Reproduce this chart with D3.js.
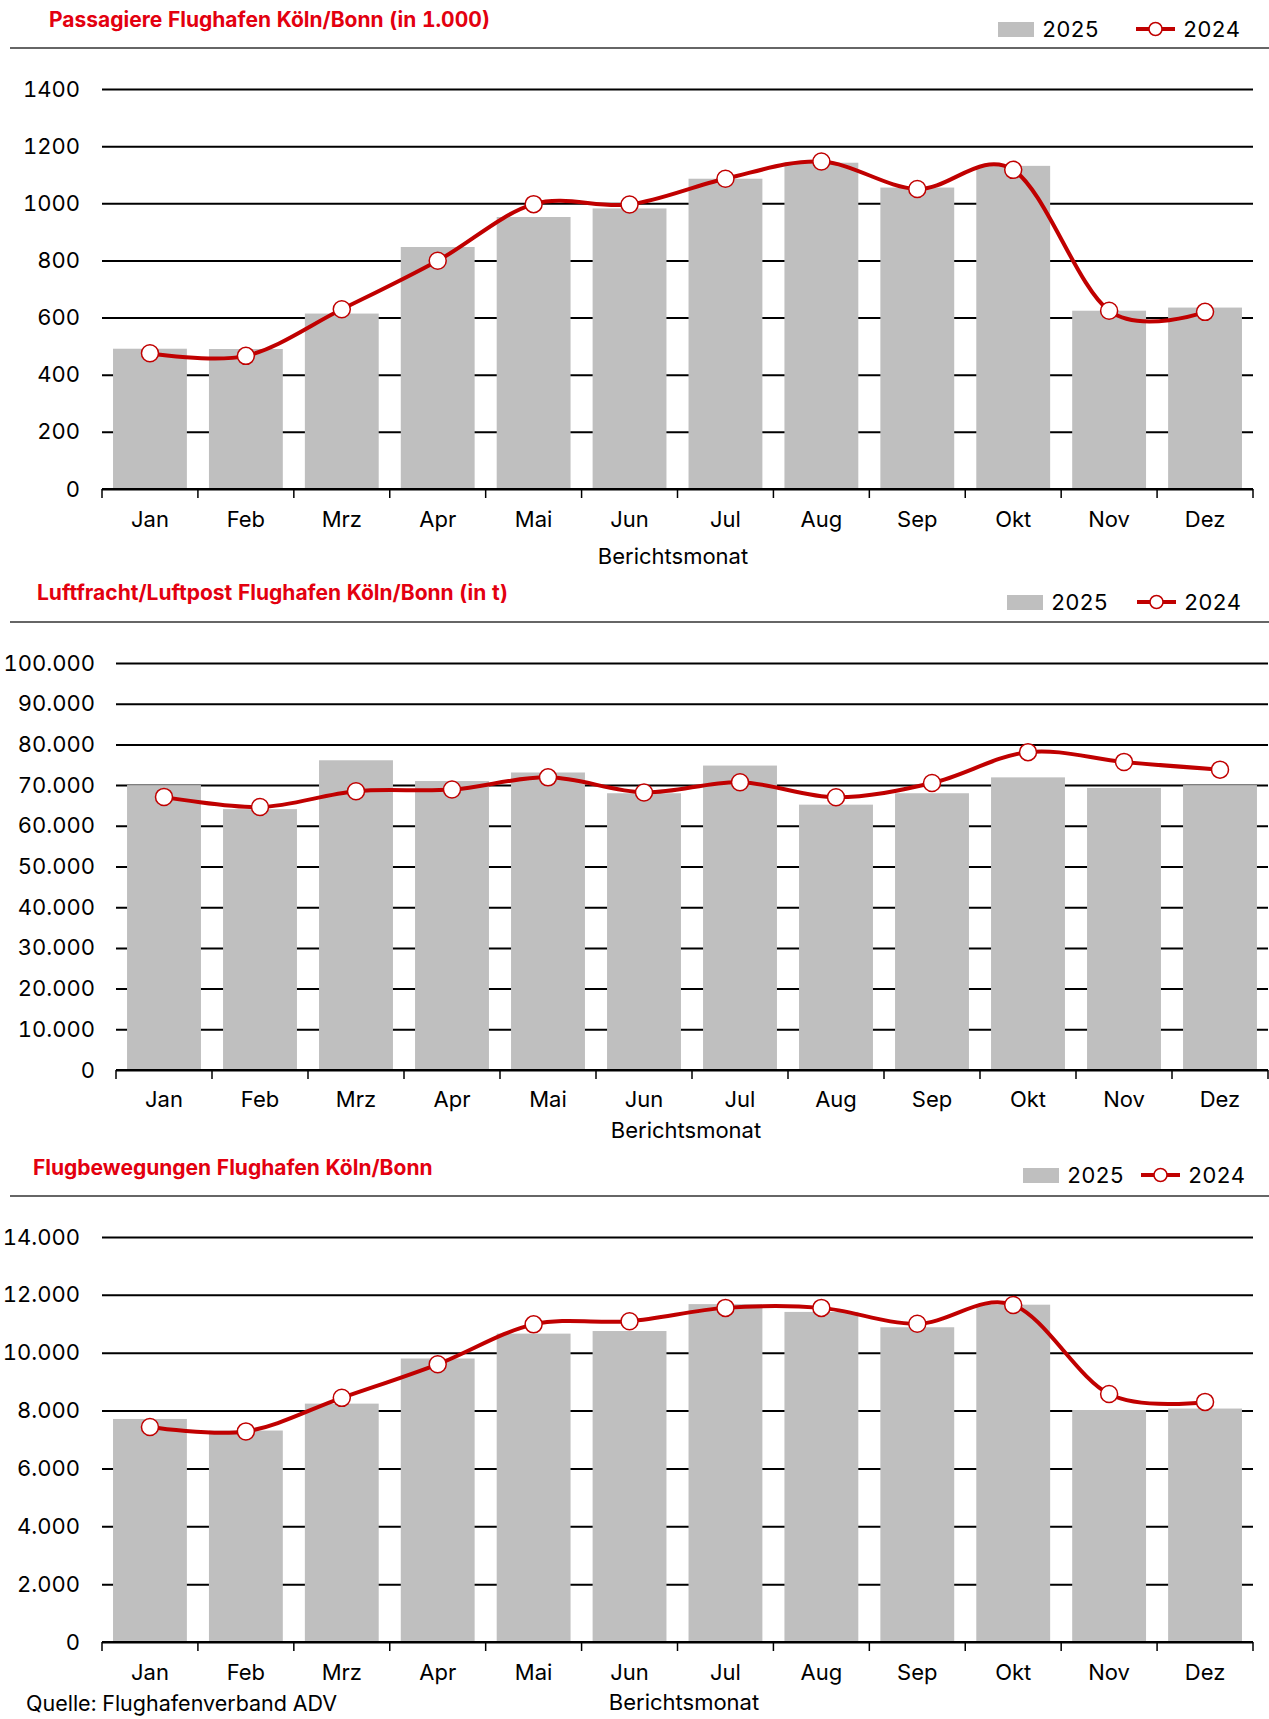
<!DOCTYPE html>
<html>
<head>
<meta charset="utf-8">
<script src="https://cdn.jsdelivr.net/npm/d3@7"></script>
<style>
  body { margin: 0; background: #fff; }
  svg text { font-family: Inter, "DejaVu Sans", sans-serif; fill: #000; font-variant-numeric: tabular-nums; }
</style>
</head>
<body>
<svg id="grafico" width="1269" height="1719"></svg>
<script>
// dados ------------------------------------------------------------
const months = ["Jan", "Feb", "Mrz", "Apr", "Mai", "Jun", "Jul", "Aug", "Sep", "Okt", "Nov", "Dez"];

const passagiere2025 = [491, 490, 614, 847, 952, 982, 1086, 1142, 1055, 1131, 624, 635];
const passagiere2024 = [475, 466, 629, 799, 997, 996, 1086, 1146, 1050, 1117, 624, 620];
const passagiereTicks = [0, 200, 400, 600, 800, 1000, 1200, 1400];

const fracht2025 = [70000, 64100, 76100, 71000, 73100, 68000, 74800, 65200, 68000, 71900, 69300, 70000];
const fracht2024 = [67100, 64600, 68500, 68900, 71900, 68200, 70700, 67000, 70500, 78100, 75700, 73800];
const frachtTicks = [0, 10000, 20000, 30000, 40000, 50000, 60000, 70000, 80000, 90000, 100000];

const bewegungen2025 = [7710, 7310, 8240, 9800, 10660, 10750, 11680, 11410, 10880, 11660, 8020, 8070];
const bewegungen2024 = [7430, 7280, 8440, 9600, 10980, 11090, 11550, 11550, 11000, 11650, 8570, 8300];
const bewegungenTicks = [0, 2000, 4000, 6000, 8000, 10000, 12000, 14000];

const seriesNames = ["2025", "2024"];

// formato alemão (ponto como separador de milhar)
const de = d3.formatLocale({decimal: ",", thousands: ".", grouping: [3], currency: ["", " €"]});

const svg = d3.select("#grafico");
const fonte = "22px";

function criarGrafico(cfg) {
    const x = d3.scaleBand()
        .domain(months)
        .range([cfg.left, cfg.right])
        .paddingInner(0.23)
        .paddingOuter(0.115);

    const y = d3.scaleLinear()
        .domain([0, d3.max(cfg.ticks)])
        .range([cfg.bottom, cfg.top]);

    const g = svg.append("g");

    // título
    g.append("text")
        .attr("x", cfg.titleX)
        .attr("y", cfg.titleY)
        .attr("dy", "0.35em")
        .style("font-size", "21px")
        .style("font-weight", "bold")
        .style("fill", "#e3000f")
        .text(cfg.title);

    // legenda
    const lg = g.append("g").attr("transform", "translate(0," + cfg.legendY + ")");
    lg.append("rect").attr("x", cfg.legendBox).attr("y", -7).attr("width", 36).attr("height", 15).attr("fill", "#bfbfbf");
    lg.append("text").attr("x", cfg.legendBox + 44).attr("dy", "0.35em").style("font-size", fonte).text(seriesNames[0]);
    lg.append("line").attr("x1", cfg.legendLine).attr("x2", cfg.legendLine + 39).attr("stroke", "#c00000").attr("stroke-width", 4);
    lg.append("circle").attr("cx", cfg.legendLine + 19.5).attr("r", 6.5).attr("fill", "#fff").attr("stroke", "#c00000").attr("stroke-width", 1.5);
    lg.append("text").attr("x", cfg.legendLine + 47).attr("dy", "0.35em").style("font-size", fonte).text(seriesNames[1]);

    // linha separadora
    g.append("line")
        .attr("x1", 10).attr("x2", 1269)
        .attr("y1", cfg.sepY).attr("y2", cfg.sepY)
        .attr("stroke", "#333").attr("stroke-width", 1.5);

    // grade + eixo Y
    const yAxis = d3.axisLeft(y)
        .tickValues(cfg.ticks)
        .tickFormat(cfg.format)
        .tickSize(-(cfg.right - cfg.left))
        .tickPadding(cfg.left - cfg.labelRight);

    const gy = g.append("g")
        .attr("transform", "translate(" + cfg.left + ",0)")
        .call(yAxis);
    gy.select(".domain").remove();
    gy.selectAll("line").attr("stroke", "#000").attr("stroke-width", 2);
    gy.selectAll("text").style("font-size", fonte).attr("font-family", null);

    // barras 2025
    g.selectAll(".bar")
        .data(cfg.bars)
        .enter()
        .append("rect")
        .attr("x", function(d, i) { return x(months[i]); })
        .attr("y", function(d) { return y(d); })
        .attr("width", x.bandwidth())
        .attr("height", function(d) { return y(0) - y(d); })
        .attr("fill", "#bfbfbf");

    // eixo X (linha base + marcas entre categorias)
    g.append("line")
        .attr("x1", cfg.left).attr("x2", cfg.right)
        .attr("y1", y(0)).attr("y2", y(0))
        .attr("stroke", "#000").attr("stroke-width", 2);

    g.selectAll(".sep-tick")
        .data(d3.range(months.length + 1))
        .enter()
        .append("line")
        .attr("x1", function(i) { return x.range()[0] + i * x.step(); })
        .attr("x2", function(i) { return x.range()[0] + i * x.step(); })
        .attr("y1", y(0))
        .attr("y2", y(0) + 9)
        .attr("stroke", "#000").attr("stroke-width", 1.5);

    const gx = g.append("g")
        .attr("transform", "translate(0," + y(0) + ")")
        .call(d3.axisBottom(x).tickSize(0).tickPadding(cfg.xLabelY - y(0) - 8));
    gx.select(".domain").remove();
    gx.selectAll("text").style("font-size", fonte).attr("font-family", null);

    g.append("text")
        .attr("x", cfg.axisTitleX)
        .attr("y", cfg.axisTitleY)
        .attr("dy", "0.35em")
        .attr("text-anchor", "middle")
        .style("font-size", fonte)
        .text("Berichtsmonat");

    // linha 2024 (suavizada como no Excel)
    const cx = function(d, i) { return x(months[i]) + x.bandwidth() / 2; };
    const line = d3.line()
        .x(cx)
        .y(function(d) { return y(d); })
        .curve(d3.curveCardinal.tension(0));

    g.append("path")
        .datum(cfg.line)
        .attr("d", line)
        .attr("fill", "none")
        .attr("stroke", "#c00000")
        .attr("stroke-width", 4);

    g.selectAll(".ponto")
        .data(cfg.line)
        .enter()
        .append("circle")
        .attr("cx", cx)
        .attr("cy", function(d) { return y(d); })
        .attr("r", 8.5)
        .attr("fill", "#fff")
        .attr("stroke", "#c00000")
        .attr("stroke-width", 1.5);
}

criarGrafico({
    title: "Passagiere Flughafen Köln/Bonn (in 1.000)",
    bars: passagiere2025, line: passagiere2024, ticks: passagiereTicks,
    format: d3.format("d"),
    titleX: 49, titleY: 20, legendBox: 998, legendLine: 1136, legendY: 29, sepY: 48,
    top: 89, bottom: 489, left: 102, right: 1253, labelRight: 80,
    xLabelY: 519, axisTitleX: 673, axisTitleY: 556
});

criarGrafico({
    title: "Luftfracht/Luftpost Flughafen Köln/Bonn (in t)",
    bars: fracht2025, line: fracht2024, ticks: frachtTicks,
    format: de.format(",d"),
    titleX: 37, titleY: 593, legendBox: 1007, legendLine: 1137, legendY: 602, sepY: 622,
    top: 663, bottom: 1070, left: 116, right: 1268, labelRight: 95,
    xLabelY: 1099, axisTitleX: 686, axisTitleY: 1130
});

criarGrafico({
    title: "Flugbewegungen Flughafen Köln/Bonn",
    bars: bewegungen2025, line: bewegungen2024, ticks: bewegungenTicks,
    format: de.format(",d"),
    titleX: 33, titleY: 1168, legendBox: 1023, legendLine: 1141, legendY: 1175, sepY: 1196,
    top: 1237, bottom: 1642, left: 102, right: 1253, labelRight: 80,
    xLabelY: 1672, axisTitleX: 684, axisTitleY: 1702
});

svg.append("text")
    .attr("x", 26)
    .attr("y", 1703)
    .attr("dy", "0.35em")
    .style("font-size", "21.5px")
    .text("Quelle: Flughafenverband ADV");
</script>
</body>
</html>
